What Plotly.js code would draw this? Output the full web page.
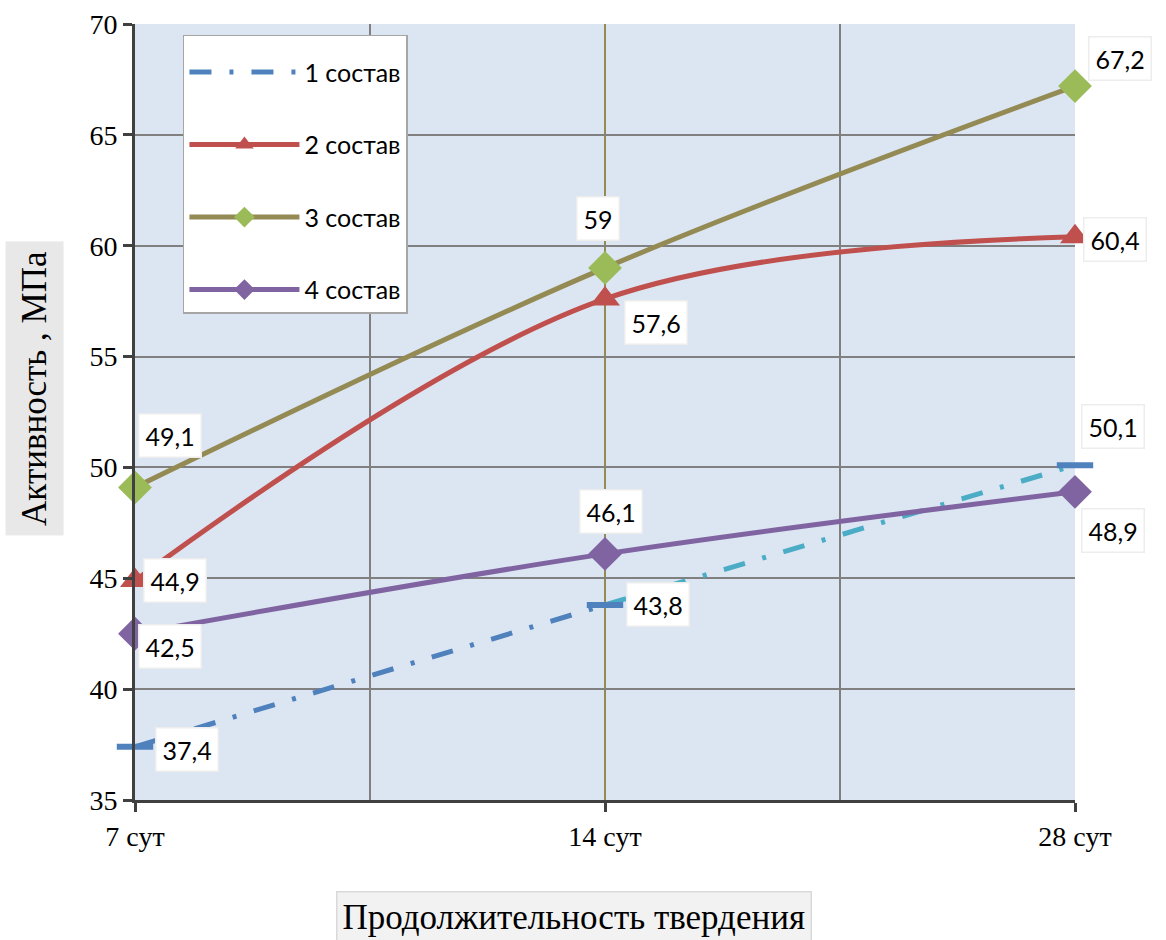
<!DOCTYPE html>
<html>
<head>
<meta charset="utf-8">
<script src="https://cdn.plot.ly/plotly-3.0.1.min.js"></script>
<style>html,body{margin:0;padding:0;background:#fff;}#chart{width:1166px;height:940px;}</style>
</head>
<body>
<div id="chart"></div>
<script>
// Data
const categories = ["7 сут", "14 сут", "28 сут"];
const seriesNames = ["1 состав", "2 состав", "3 состав", "4 состав"];
const s1 = [37.4, 43.8, 50.1];
const s2 = [44.9, 57.6, 60.4];
const s3 = [49.1, 59, 67.2];
const s4 = [42.5, 46.1, 48.9];
const yTicks = [35, 40, 45, 50, 55, 60, 65, 70];

const xIdx = categories.map((c, i) => i);
const fmt = v => String(v).replace('.', ',');

const traces = [
  {
    x: xIdx.slice(0, 2), y: s1.slice(0, 2), name: seriesNames[0], legendgroup: 'g1',
    mode: 'lines', type: 'scatter', cliponaxis: false,
    line: {color: '#4F81BD', width: 5, dash: '22px,18px,4px,18px'}
  },
  {
    x: xIdx.slice(1, 3), y: s1.slice(1, 3), name: seriesNames[0], legendgroup: 'g1x', showlegend: false,
    mode: 'lines', type: 'scatter', cliponaxis: false,
    line: {color: '#4BACC6', width: 5, dash: '22px,18px,4px,18px'}
  },
  {
    x: xIdx, y: s1, name: seriesNames[0], legendgroup: 'g1m', showlegend: false,
    mode: 'markers', type: 'scatter', cliponaxis: false,
    marker: {symbol: 'line-ew', size: 26, color: '#4F81BD', line: {color: '#4F81BD', width: 6}}
  },
  {
    x: xIdx, y: s2, name: seriesNames[1], legendgroup: 'g2',
    mode: 'lines+markers', type: 'scatter', cliponaxis: false,
    line: {color: '#C0504D', width: 5, shape: 'spline', smoothing: 1},
    marker: {symbol: 'triangle-up', size: 26, color: '#C0504D'}
  },
  {
    x: xIdx, y: s3, name: seriesNames[2], legendgroup: 'g3',
    mode: 'lines+markers', type: 'scatter', cliponaxis: false,
    line: {color: '#948A54', width: 5, shape: 'spline', smoothing: 1},
    marker: {symbol: 'diamond', size: 26, color: '#9BBB59'}
  },
  {
    x: xIdx, y: s4, name: seriesNames[3], legendgroup: 'g4',
    mode: 'lines+markers', type: 'scatter', cliponaxis: false,
    line: {color: '#8064A2', width: 5, shape: 'spline', smoothing: 1},
    marker: {symbol: 'diamond', size: 26, color: '#8064A2'}
  }
];

// label offsets in pixels (style only)
const labelOffsets = {
  s1: [[52, -3], [53, 0], [38, 39]],
  s2: [[40, 0], [51, -24], [40, -3]],
  s3: [[35, 52], [-7, 49], [45, 28]],
  s4: [[35, -13], [6, 42], [38, -39]]
};
const allSeries = {s1, s2, s3, s4};
const annotations = [];
Object.keys(allSeries).forEach(k => {
  allSeries[k].forEach((v, i) => {
    annotations.push({
      x: xIdx[i], y: v, xref: 'x', yref: 'y', text: fmt(v), showarrow: false,
      xshift: labelOffsets[k][i][0], yshift: labelOffsets[k][i][1],
      font: {family: 'Lato, Carlito, Calibri, sans-serif', size: 25, color: '#000'},
      bgcolor: '#FFFFFF', bordercolor: '#EDEDED', borderwidth: 1.5, borderpad: 6
    });
  });
});
annotations.push({
  x: -0.1064, y: 0.531, xref: 'paper', yref: 'paper', xanchor: 'center', yanchor: 'middle',
  text: 'Активность , МПа', showarrow: false,
  textangle: -90, font: {family: 'Liberation Serif, Times New Roman, serif', size: 35, color: '#000'},
  bgcolor: '#E8E8E8', borderpad: 9
});
annotations.push({
  x: 0.467, y: -0.151, xref: 'paper', yref: 'paper', xanchor: 'center', yanchor: 'middle',
  text: 'Продолжительность твердения', showarrow: false,
  font: {family: 'Liberation Serif, Times New Roman, serif', size: 35, color: '#000'},
  bgcolor: '#F2F2F2', bordercolor: '#D9D9D9', borderwidth: 1.5, borderpad: 5
});

const layout = {
  width: 1166, height: 940,
  margin: {l: 135, r: 91, t: 24, b: 140},
  paper_bgcolor: '#FFFFFF',
  plot_bgcolor: '#DCE6F2',
  showlegend: true,
  legend: {
    x: 0.051, y: 0.986, xanchor: 'left', yanchor: 'top',
    bgcolor: '#FFFFFF', bordercolor: '#A6A6A6', borderwidth: 1.5,
    font: {family: 'Lato, Carlito, Calibri, sans-serif', size: 25, color: '#000'},
    title: {text: ' ', font: {size: 10}},
    tracegroupgap: 37, itemwidth: 110,
    traceorder: 'grouped'
  },
  xaxis: {
    range: [0, 2], tickvals: xIdx, ticktext: categories,
    showgrid: true, gridcolor: '#948A54', gridwidth: 2,
    minor: {dtick: 0.5, tick0: 0, showgrid: true, gridcolor: '#808080', gridwidth: 2, ticks: ''},
    showline: true, linecolor: '#404040', linewidth: 3,
    ticks: 'outside', ticklen: 9, tickwidth: 3, tickcolor: '#404040',
    tickfont: {family: 'Liberation Serif, Times New Roman, serif', size: 28, color: '#000'},
    zeroline: false, fixedrange: true
  },
  yaxis: {
    range: [35, 70], tickvals: yTicks, ticktext: yTicks.map(String),
    showgrid: true, gridcolor: '#808080', gridwidth: 2,
    showline: true, linecolor: '#404040', linewidth: 3,
    ticks: 'outside', ticklen: 9, tickwidth: 3, tickcolor: '#404040',
    tickfont: {family: 'Liberation Serif, Times New Roman, serif', size: 28, color: '#000'},
    zeroline: false, fixedrange: true
  },
  annotations: annotations
};

Plotly.newPlot('chart', traces, layout, {staticPlot: true, displayModeBar: false});
</script>
</body>
</html>
